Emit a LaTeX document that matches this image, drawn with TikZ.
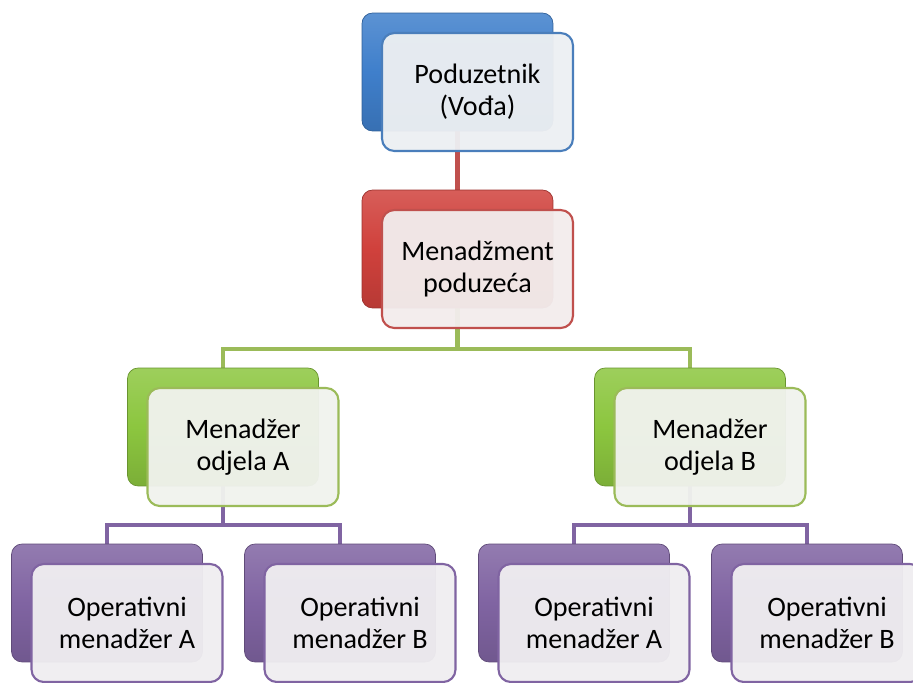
\documentclass[tikz,border=0pt]{standalone}
\usepackage{fontspec}
\setmainfont{Carlito}
\usepackage{xcolor}
\usepackage{tikz}
\usetikzlibrary{positioning,backgrounds}

\definecolor{cblue}{HTML}{3F7FCB}
\definecolor{cred}{HTML}{D0413C}
\definecolor{cgreen}{HTML}{8CC63F}
\definecolor{cpurple}{HTML}{8064A2}
\definecolor{lred}{HTML}{C0504D}
\definecolor{lgreen}{HTML}{9BBB59}
\definecolor{lpurple}{HTML}{8064A2}
\definecolor{lblue}{HTML}{4A7EBB}

\begin{document}
\begin{tikzpicture}[
  x=0.02cm, y=-0.02cm,
  back/.style={rounded corners=6pt, minimum width=3.82cm, minimum height=2.36cm, inner sep=0pt,
    draw=#1!75!black, line width=0.4pt, top color=#1!85!white, bottom color=#1!88!black, middle color=#1},
  front/.style={rounded corners=7pt, minimum width=3.82cm, minimum height=2.36cm, inner sep=2pt,
    draw=#1, line width=1.2pt, fill=#1!5!white!96!black, fill opacity=0.96, text opacity=1,
    align=center, text=black, font=\fontsize{16}{18.4}\selectfont},
  conn/.style={line width=2.4pt, draw=#1}
]
\clip (0,0) rectangle (913,683);
% level 1
\node[back=cblue] (vodjaB) at (457.5,72) {};
\node[front=lblue] (vodja) at ([shift={(20,20)}]vodjaB.center) {Poduzetnik\\(Vođa)};
% level 2
\node[back=cred] (mgmtB) at (457.5,249) {};
\node[front=lred] (mgmt) at ([shift={(20,20)}]mgmtB.center) {Menadžment\\poduzeća};
% level 3
\node[back=cgreen] (odjAB) at (223,427) {};
\node[front=lgreen] (odjA) at ([shift={(20,20)}]odjAB.center) {Menadžer\\odjela A};
\node[back=cgreen] (odjBB) at (690,427) {};
\node[front=lgreen] (odjB) at ([shift={(20,20)}]odjBB.center) {Menadžer\\odjela B};
% level 4
\node[back=cpurple] (opAAB) at (107,603) {};
\node[front=lpurple] (opAA) at ([shift={(20,20)}]opAAB.center) {Operativni\\menadžer A};
\node[back=cpurple] (opABB) at (340,603) {};
\node[front=lpurple] (opAB) at ([shift={(20,20)}]opABB.center) {Operativni\\menadžer B};
\node[back=cpurple] (opBAB) at (574,603) {};
\node[front=lpurple] (opBA) at ([shift={(20,20)}]opBAB.center) {Operativni\\menadžer A};
\node[back=cpurple] (opBBB) at (807,603) {};
\node[front=lpurple] (opBB) at ([shift={(20,20)}]opBBB.center) {Operativni\\menadžer B};
% bus points
\coordinate (gbus) at (457.5,349);
\coordinate (pbusA) at (223,525);
\coordinate (pbusB) at (690,525);
\begin{scope}[on background layer]
\draw[conn=lred] (vodjaB.center) -- (mgmtB.center);
\draw[conn=lgreen] (mgmtB.center) -- (gbus) -| (odjAB.center);
\draw[conn=lgreen] (gbus) -| (odjBB.center);
\draw[conn=lpurple] (odjAB.center) -- (pbusA) -| (opAAB.center);
\draw[conn=lpurple] (pbusA) -| (opABB.center);
\draw[conn=lpurple] (odjBB.center) -- (pbusB) -| (opBAB.center);
\draw[conn=lpurple] (pbusB) -| (opBBB.center);
\end{scope}
\end{tikzpicture}
\end{document}
